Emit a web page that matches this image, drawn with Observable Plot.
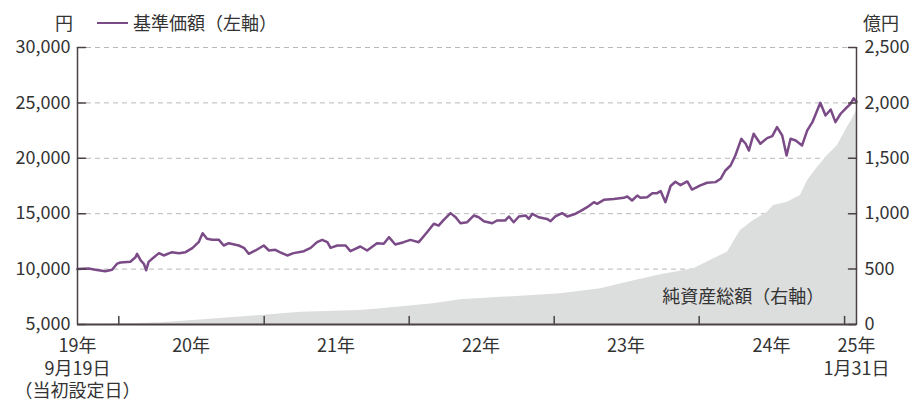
<!DOCTYPE html>
<html><head><meta charset="utf-8">
<script src="https://cdn.jsdelivr.net/npm/d3@7"></script>
<script src="https://cdn.jsdelivr.net/npm/@observablehq/plot@0.6"></script>
<style>
body{margin:0;background:#fff;}
#wrap{position:relative;width:917px;height:400px;font-family:"Noto Sans CJK JP",sans-serif;color:#333;font-size:18px;}
.lbl{position:absolute;line-height:18px;white-space:nowrap;}
#wrap svg{position:absolute;left:0;top:0;}
</style></head><body><div id="wrap"></div>
<script>
// ---- Data ----
const navDates = ["2019-09-19","2019-10-17","2019-11-03","2019-11-28","2019-12-15","2019-12-28","2020-01-05","2020-01-30","2020-02-12","2020-02-16","2020-02-25","2020-03-04","2020-03-10","2020-03-16","2020-03-25","2020-04-11","2020-04-23","2020-05-14","2020-05-31","2020-06-17","2020-07-04","2020-07-20","2020-07-30","2020-08-10","2020-08-23","2020-09-09","2020-09-21","2020-10-04","2020-10-29","2020-11-11","2020-11-23","2020-12-10","2020-12-31","2021-01-13","2021-01-29","2021-02-09","2021-02-28","2021-03-16","2021-04-11","2021-04-28","2021-05-14","2021-05-27","2021-06-09","2021-06-17","2021-07-04","2021-07-25","2021-08-06","2021-08-31","2021-09-17","2021-10-12","2021-10-29","2021-11-11","2021-11-27","2021-12-18","2022-01-04","2022-01-25","2022-02-15","2022-03-04","2022-03-16","2022-03-29","2022-04-15","2022-04-28","2022-05-10","2022-05-27","2022-06-13","2022-06-25","2022-07-08","2022-07-29","2022-08-10","2022-08-31","2022-09-09","2022-09-21","2022-10-04","2022-10-21","2022-10-29","2022-11-07","2022-11-23","2022-12-14","2022-12-23","2023-01-04","2023-01-21","2023-02-03","2023-02-24","2023-03-08","2023-03-25","2023-04-11","2023-04-19","2023-05-06","2023-05-31","2023-06-25","2023-07-04","2023-07-16","2023-07-29","2023-08-06","2023-08-23","2023-09-05","2023-09-17","2023-09-26","2023-10-08","2023-10-21","2023-11-02","2023-11-15","2023-12-02","2023-12-14","2024-01-04","2024-01-21","2024-02-11","2024-02-24","2024-03-07","2024-03-20","2024-04-01","2024-04-16","2024-04-27","2024-05-05","2024-05-17","2024-06-03","2024-06-20","2024-07-03","2024-07-15","2024-07-28","2024-08-08","2024-08-18","2024-08-31","2024-09-16","2024-09-29","2024-10-12","2024-10-24","2024-11-01","2024-11-14","2024-11-27","2024-12-09","2024-12-22","2025-01-03","2025-01-16","2025-01-24","2025-01-31"];
const navValues = [10000,10060,9940,9810,9940,10500,10600,10660,11070,11380,10780,10480,9900,10650,10930,11440,11230,11530,11440,11530,11890,12430,13240,12730,12640,12640,12130,12340,12130,11920,11380,11680,12130,11680,11740,11530,11230,11440,11620,11920,12430,12640,12430,11920,12130,12130,11620,12040,11680,12340,12280,12880,12220,12430,12640,12430,13330,14090,13930,14450,15050,14680,14140,14230,14840,14680,14320,14140,14390,14390,14750,14230,14750,14840,14530,14990,14680,14530,14320,14750,15050,14750,15000,15230,15590,16040,15890,16250,16330,16430,16550,16190,16640,16430,16490,16850,16850,17040,16040,17500,17880,17580,17910,17180,17550,17790,17850,18150,18900,19350,20250,21760,21310,20700,22210,21310,21820,22000,22810,22060,20250,21760,21610,21160,22520,23260,24320,25010,23860,24400,23260,24020,24470,24920,25420,25100];

const assetDates = ["2019-09-19","2020-01-05","2020-04-15","2020-07-07","2020-10-08","2020-12-23","2021-04-03","2021-08-31","2021-10-21","2022-03-03","2022-05-10","2022-08-19","2023-01-17","2023-04-28","2023-07-05","2023-09-26","2023-12-18","2024-01-29","2024-03-12","2024-04-14","2024-05-17","2024-06-21","2024-07-06","2024-08-10","2024-09-12","2024-09-30","2024-10-25","2024-11-19","2024-12-14","2025-01-08","2025-01-23","2025-01-31"];
const assetValues = [1,5,15,36,60,81,111,126,142,187,223,245,277,322,382,450,503,578,653,848,939,1014,1074,1104,1164,1300,1420,1525,1616,1780,1870,1930];

const leftTicks = [5000,10000,15000,20000,25000,30000];
const gridTicks = [10000,15000,20000,25000,30000];
const rightTicks = [0,500,1000,1500,2000,2500];
const yearTicks = ["2020-01-01","2021-01-01","2022-01-01","2023-01-01","2024-01-01","2025-01-01"];
const xLabelDates = ["2019-09-19","2020-07-01","2021-07-01","2022-07-01","2023-07-01","2024-07-01","2025-01-31"];
const xLabelTexts = ["19年\n9月19日\n（当初設定日）","20年","21年","22年","23年","24年","25年\n1月31日"];
const leftUnit = "円";
const rightUnit = "億円";
const navName = "基準価額（左軸）";
const assetName = "純資産総額（右軸）";
const assetLabelAt = {date:"2024-11-11", value:244};

// ---- Build ----
const parse = d3.utcParse("%Y-%m-%d");
const nav = navDates.map((d,i)=>({date:parse(d), value:navValues[i]}));
const assets = assetDates.map((d,i)=>({date:parse(d), value:assetValues[i]}));
const xLabels = xLabelDates.map((d,i)=>({date:parse(d), label:xLabelTexts[i]}));
const years = yearTicks.map(parse);
const toLeft = v => 5000 + v*10;
const toRight = v => (v-5000)/10;
const fmt = d3.format(",");
const purple = "#7b4b88";
const axisColor = "#4a4244";
const textColor = "#333";
const start = nav[0].date, end = nav[nav.length-1].date;

const chart = Plot.plot({
  width:917, height:400,
  marginLeft:77, marginRight:61, marginTop:47, marginBottom:76,
  style:{fontFamily:'"Noto Sans CJK JP", sans-serif', fontSize:"18px", color:textColor, background:"transparent", overflow:"visible"},
  x:{type:"utc", domain:[start,end], axis:null},
  y:{domain:[5000,30000]},
  marks:[
    Plot.ruleY(gridTicks, {stroke:"#b8b8b8", strokeWidth:1, strokeDasharray:"5,4"}),
    Plot.areaY(assets, {x:"date", y1:()=>5000, y2:d=>toLeft(d.value), fill:"#dcdddd"}),
    Plot.text([assetLabelAt], {x:d=>parse(d.date), y:d=>toLeft(d.value), text:()=>assetName, textAnchor:"end", fill:textColor}),
    Plot.lineY(nav, {x:"date", y:"value", stroke:purple, strokeWidth:2.5, strokeLinejoin:"round"}),
    Plot.ruleY([5000], {stroke:axisColor, strokeWidth:2}),
    Plot.ruleX([start], {stroke:axisColor, strokeWidth:1.5}),
    Plot.ruleX([end], {stroke:axisColor, strokeWidth:1.5}),
    Plot.vector(leftTicks, {y:d=>d, frameAnchor:"left", anchor:"start", length:8, shape:{draw(c,l){c.moveTo(0,0);c.lineTo(l,0);}}, stroke:axisColor, strokeWidth:1.5}),
    Plot.vector(rightTicks.map(toLeft), {y:d=>d, frameAnchor:"right", anchor:"start", length:8, shape:{draw(c,l){c.moveTo(0,0);c.lineTo(-l,0);}}, stroke:axisColor, strokeWidth:1.5}),
    Plot.vector(years, {x:d=>d, frameAnchor:"bottom", anchor:"start", length:8, shape:{draw(c,l){c.moveTo(0,0);c.lineTo(0,-l);}}, stroke:axisColor, strokeWidth:1.5}),
    Plot.axisY({anchor:"left", ticks:leftTicks, tickSize:0, tickPadding:7, tickFormat:fmt, label:null, fill:textColor}),
    Plot.axisY({anchor:"right", ticks:rightTicks.map(toLeft), tickSize:0, tickPadding:8, tickFormat:d=>fmt(toRight(d)), label:null, fill:textColor}),
    Plot.text(xLabels, {x:"date", text:"label", frameAnchor:"bottom", lineAnchor:"top", dy:12, lineHeight:1.25, fill:textColor})
  ]
});

const wrap = document.getElementById("wrap");
wrap.appendChild(chart);
function lbl(text, left, top){const s=document.createElement("span");s.className="lbl";s.textContent=text;s.style.left=left+"px";s.style.top=top+"px";wrap.appendChild(s);return s;}
lbl(leftUnit, 55, 13);
const sw = document.createElement("div");
sw.style.cssText = `position:absolute;left:97px;top:22px;width:31px;height:2px;background:${purple};`;
wrap.appendChild(sw);
lbl(navName, 133, 13);
lbl(rightUnit, 863, 13);
</script></body></html>
